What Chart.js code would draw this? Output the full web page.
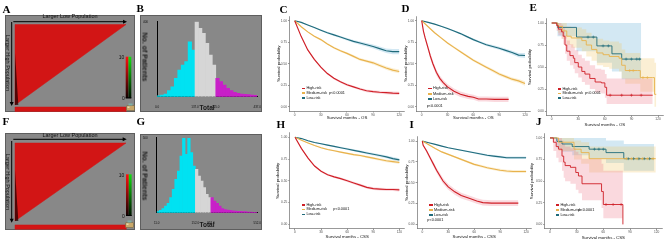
<!DOCTYPE html>
<html><head><meta charset="utf-8">
<script src="https://cdn.jsdelivr.net/npm/chart.js@4.4.0/dist/chart.umd.min.js"></script>
<style>
html,body{margin:0;padding:0;background:#fff;}
#root{position:relative;width:669px;height:242px;overflow:hidden;font-family:"Liberation Sans",Arial,sans-serif;}
#root canvas{position:absolute;display:block;}
.pl{position:absolute;font-family:"Liberation Serif","DejaVu Serif",serif;font-weight:bold;font-size:11px;line-height:1;color:#000;}
.tx{position:absolute;white-space:nowrap;line-height:1;color:#111;}
.sw{display:inline-block;width:3.4px;height:1.5px;vertical-align:middle;margin-right:1.3px;}
</style></head><body><div id="root"></div>
<script>
// ================= DATA =================
const riskGroups = ['High-risk','Medium-risk','Low-risk'];
const pValue = 'p<0.0001';
const kmXTicks = [0,30,60,90,120];
const kmYTicks = [0,0.25,0.5,0.75,1];
const osTitle = 'Survival months - OS';
const cssTitle = 'Survival months - CSS';
const survTitle = 'Survival probability';

const kmMonths = [0,7.5,15,22.5,30,37.5,45,52.5,60,67.5,75,82.5,90,97.5,105,112.5,120];

// C : OS (training)
const cHigh   = [1,0.815,0.66,0.55,0.46,0.385,0.33,0.29,0.255,0.23,0.205,0.185,0.175,0.168,0.163,0.158,0.155];
const cHighCI = [0,0.008,0.01,0.01,0.012,0.012,0.013,0.013,0.014,0.014,0.015,0.016,0.016,0.017,0.018,0.018,0.019];
const cMed    = [1,0.93,0.87,0.82,0.78,0.73,0.685,0.65,0.62,0.585,0.55,0.53,0.51,0.48,0.45,0.425,0.41];
const cMedCI  = [0,0.006,0.008,0.009,0.01,0.011,0.012,0.013,0.014,0.015,0.016,0.017,0.018,0.019,0.02,0.021,0.022];
const cLow    = [1,0.98,0.95,0.92,0.89,0.86,0.835,0.81,0.785,0.76,0.74,0.72,0.70,0.675,0.65,0.64,0.64];
const cLowCI  = [0,0.004,0.006,0.008,0.01,0.011,0.012,0.013,0.015,0.017,0.019,0.021,0.023,0.025,0.027,0.03,0.03];

// D : OS (validation)
const dHighMonths = [0,2,4,6,8,10,13,17,21,25,30,37.5,45,54,60,66,75,85,95,101];
const dHigh   = [1,0.88,0.80,0.73,0.66,0.59,0.50,0.40,0.33,0.28,0.23,0.18,0.145,0.12,0.11,0.09,0.09,0.085,0.085,0.085];
const dHighCI = [0,0.02,0.025,0.028,0.03,0.032,0.033,0.034,0.034,0.034,0.033,0.032,0.031,0.03,0.03,0.03,0.03,0.03,0.03,0.03];
const dMed    = [1,0.93,0.86,0.80,0.74,0.69,0.64,0.59,0.54,0.50,0.46,0.42,0.38,0.35,0.32,0.30,0.27];
const dMedCI  = [0,0.006,0.008,0.01,0.011,0.012,0.013,0.014,0.015,0.016,0.017,0.018,0.019,0.02,0.02,0.022,0.025];
const dLow    = [1,0.98,0.96,0.935,0.91,0.88,0.85,0.815,0.78,0.75,0.72,0.70,0.68,0.655,0.63,0.60,0.595];
const dLowCI  = [0,0.004,0.005,0.006,0.008,0.009,0.01,0.011,0.012,0.013,0.014,0.016,0.018,0.02,0.022,0.025,0.028];

// E : OS (small cohort, step curves)
const eHighT  = [0,5.6,7.5,11,13,15,17,20.6,24.4,26,30,34,37.5,43,49,56,60,62,114];
const eHighS  = [1,0.97,0.93,0.90,0.85,0.75,0.68,0.63,0.60,0.55,0.50,0.45,0.42,0.37,0.33,0.32,0.27,0.18,0.18];
const eHighLo = [1,0.91,0.86,0.82,0.76,0.65,0.57,0.52,0.48,0.43,0.38,0.33,0.30,0.25,0.21,0.20,0.15,0.08,0.08];
const eHighHi = [1,1,1,0.98,0.94,0.86,0.80,0.76,0.73,0.69,0.64,0.60,0.57,0.52,0.48,0.47,0.42,0.37,0.37];
const eHighCens = [66,79,90,101];
const eMedT   = [0,7,12,17,22,34,39,45,51,58,65,76,79,83,97,100,114,116,118];
const eMedS   = [1,0.96,0.91,0.85,0.83,0.80,0.75,0.70,0.66,0.64,0.62,0.60,0.52,0.46,0.46,0.38,0.38,0.19,0.19];
const eMedLo  = [1,0.89,0.82,0.75,0.72,0.68,0.62,0.57,0.52,0.50,0.48,0.45,0.37,0.31,0.31,0.22,0.22,0.05,0.05];
const eMedHi  = [1,1,1,0.96,0.95,0.93,0.89,0.85,0.82,0.80,0.79,0.77,0.70,0.66,0.66,0.60,0.60,0.55,0.55];
const eMedCens = [88,92,103,108];
const eLowT   = [0,6.5,28,51,68,79,101];
const eLowS   = [1,0.95,0.84,0.74,0.65,0.59,0.59];
const eLowLo  = [1,0.85,0.68,0.55,0.45,0.36,0.36];
const eLowHi  = [1,1,1,1,1,1,1];
const eLowCens = [41,47,58,64,84,90,96,99];

// H : CSS (training)
const hHigh   = [1,0.87,0.76,0.67,0.61,0.57,0.545,0.525,0.50,0.475,0.45,0.425,0.41,0.405,0.40,0.40,0.395];
const hHighCI = [0,0.008,0.01,0.011,0.012,0.012,0.013,0.013,0.014,0.014,0.015,0.015,0.016,0.016,0.017,0.018,0.018];
const hMed    = [1,0.965,0.935,0.905,0.88,0.86,0.845,0.83,0.815,0.80,0.79,0.775,0.76,0.745,0.73,0.72,0.71];
const hMedCI  = [0,0.004,0.005,0.006,0.007,0.008,0.009,0.01,0.011,0.012,0.012,0.013,0.014,0.015,0.016,0.017,0.018];
const hLow    = [1,0.985,0.96,0.94,0.925,0.91,0.895,0.88,0.865,0.85,0.835,0.82,0.805,0.79,0.775,0.755,0.74];
const hLowCI  = [0,0.003,0.005,0.006,0.007,0.008,0.009,0.01,0.011,0.012,0.013,0.014,0.015,0.016,0.017,0.018,0.02];

// I : CSS (validation)
const iHighMonths = [0,1,5,9,13,16.5,20.5,24,30,37.5,45,55,63,70,80,90,100,111];
const iHigh   = [1,0.95,0.88,0.80,0.72,0.65,0.58,0.52,0.45,0.39,0.345,0.31,0.28,0.26,0.255,0.255,0.255,0.255];
const iHighCI = [0,0.01,0.02,0.025,0.028,0.03,0.032,0.033,0.034,0.034,0.034,0.034,0.034,0.034,0.034,0.034,0.035,0.035];
const iMed    = [1,0.955,0.91,0.87,0.84,0.81,0.78,0.75,0.72,0.70,0.68,0.665,0.65,0.64,0.635,0.635,0.635];
const iMedCI  = [0,0.005,0.007,0.009,0.01,0.011,0.012,0.013,0.014,0.015,0.016,0.016,0.017,0.017,0.018,0.018,0.018];
const iLow    = [1,0.98,0.96,0.94,0.92,0.905,0.89,0.875,0.86,0.845,0.83,0.82,0.81,0.80,0.80,0.80,0.80];
const iLowCI  = [0,0.003,0.004,0.005,0.006,0.007,0.008,0.009,0.01,0.011,0.012,0.013,0.014,0.015,0.015,0.016,0.016];

// J : CSS (small cohort, step curves)
const jHighT  = [0,3.8,7,9.6,13.5,15.4,17,23,29,32,36,58,60,82];
const jHighS  = [1,0.95,0.90,0.87,0.79,0.72,0.68,0.66,0.60,0.56,0.47,0.38,0.23,0];
const jHighLo = [1,0.85,0.77,0.72,0.62,0.54,0.50,0.47,0.40,0.36,0.28,0.19,0.07,0];
const jHighHi = [1,1,1,1,0.97,0.93,0.90,0.88,0.84,0.81,0.76,0.70,0.62,0.62];
const jHighCens = [63,71,80];
const jMedT   = [0,9.6,27,35,44,119];
const jMedS   = [1,0.95,0.87,0.83,0.76,0.76];
const jMedLo  = [1,0.85,0.75,0.70,0.60,0.60];
const jMedHi  = [1,1,0.97,0.95,0.90,0.90];
const jMedCens = [86,92,98,104,110,116];
const jLowT   = [0,7.7,13.5,25,44,63,83,117];
const jLowS   = [1,0.96,0.93,0.90,0.87,0.83,0.76,0.76];
const jLowLo  = [1,0.88,0.84,0.80,0.76,0.71,0.62,0.62];
const jLowHi  = [1,1,1,1,1,0.97,0.93,0.93];
const jLowCens = [50,55,60,88,94,100,106,112];

// Histograms (B, G)
const histTitleX = 'Total';
const histTitleY = 'No. of Patients';
const histBCounts = [5,9,14,32,53,98,142,169,187,293,249,400,364,338,284,222,169,98,80,62,44,32,23,18,14,12,11,9,7];
const histBCuts = [11,17];
const histBTickPos = [0,11,17,29];
const histBTickLabels = ['0.0','137.0','225.0','437.0'];
const histBMax = 400;
const histGCounts = [7,16,27,44,62,100,155,222,278,378,495,389,495,400,311,289,244,211,167,122,100,100,78,62,44,27,20,18,16,13,11,9,9,7,7,4,4,2,2];
const histGCuts = [15,21];
const histGTickPos = [0,15,21,39];
const histGTickLabels = ['11.0','152.0','218.0','552.0'];
const histGMax = 500;

// X-tile plots (A, F)
const xtTitleX = 'Larger Low Population';
const xtTitleY = 'Larger High Population';
const xtTriX = [0,100,0];
const xtTriY = [0,0,100];
const xtWedgeX = [0,3,0];
const xtWedgeY = [35,100,100];
const xtBarAX = [0,100,100,0];
const xtBarAY = [102.5,102.5,108,108];
const xtBarFX = [0,100,100,0];
const xtBarFY = [105,105,110.5,110.5];
const xtScaleLabels = ['10','0'];

// ================= STYLE =================
const KM_COLORS = ['#cf1f27','#e8b24c','#1f6b7b'];
const BAND_COLORS = ['rgba(238,120,135,0.28)','rgba(242,196,100,0.28)','rgba(110,178,215,0.30)'];
const HIST_COLORS = ['#00e2f2','#d6d6d6','#c820c8'];
const XT_RED = '#d21515';
const PANEL_GRAY = '#888888';

const root = document.getElementById('root');
function addCanvas(l,t,w,h){
  const c=document.createElement('canvas');
  c.width=w; c.height=h;
  c.style.left=l+'px'; c.style.top=t+'px'; c.style.width=w+'px'; c.style.height=h+'px';
  root.appendChild(c); return c;
}
function addText(txt,x,y,size,extra){
  const d=document.createElement('div'); d.className='tx'; d.textContent=txt;
  d.style.left=x+'px'; d.style.top=y+'px'; d.style.fontSize=size+'px';
  if(extra) Object.assign(d.style,extra);
  root.appendChild(d); return d;
}
function addCentered(txt,cx,cy,size,extra,rot){
  const d=addText(txt,cx,cy,size,extra);
  d.style.transform='translate(-50%,-50%)'+(rot?' rotate('+rot+'deg)':'');
  return d;
}
function stepAt(t,T,S){let v=S[0];for(let i=0;i<T.length;i++){if(T[i]<=t)v=S[i];}return v;}
function pairs(T,V){return T.map((t,i)=>({x:t,y:V[i]}));}
function smooth(t,s,ci){return {t,s,lo:s.map((v,i)=>Math.max(0,v-ci[i])),hi:s.map((v,i)=>Math.min(1,v+ci[i]))};}

const grayBg = {id:'grayBg', beforeDraw(ch){const x=ch.ctx;x.save();x.fillStyle=PANEL_GRAY;x.fillRect(0,0,ch.width,ch.height);x.strokeStyle='#5e5e5e';x.lineWidth=1;x.strokeRect(0.5,0.5,ch.width-1,ch.height-1);x.restore();}};

// ================= KM PANELS =================
function makeKM(p){
  const g=p.geo, span=g.y0-g.y1;
  const aL=g.x0-6*g.ppm, aR=g.x0+126*g.ppm, aT=g.y1-0.05*span, aB=g.y0+0.05*span;
  const cl=Math.round(aL-g.yw), ct=Math.round(aT-3);
  const cw=Math.ceil(aR+4-cl), chh=Math.ceil(aB+g.xh-ct);
  const yw=aL-cl, padT=aT-ct, padR=cl+cw-aR, xh=ct+chh-aB;
  const c=addCanvas(cl,ct,cw,chh);
  const st=p.stepped?'before':false;
  const ds=[];
  p.curves.forEach((cv,k)=>{
    ds.push({data:pairs(cv.t,cv.lo),borderWidth:0,borderColor:'rgba(0,0,0,0)',pointRadius:0,fill:false,stepped:st,order:10});
    ds.push({data:pairs(cv.t,cv.hi),borderWidth:0,borderColor:'rgba(0,0,0,0)',pointRadius:0,fill:'-1',backgroundColor:BAND_COLORS[k],stepped:st,order:10});
  });
  p.curves.forEach((cv,k)=>{
    ds.push({data:pairs(cv.t,cv.s),borderColor:KM_COLORS[k],borderWidth:p.lw,pointRadius:0,fill:false,stepped:st,order:2});
  });
  p.curves.forEach((cv,k)=>{
    if(cv.cens) ds.push({data:cv.cens.map(t=>({x:t,y:stepAt(t,cv.t,cv.s)})),showLine:false,pointStyle:'cross',pointRadius:1.5,pointBorderWidth:0.6,pointBorderColor:KM_COLORS[k],borderColor:KM_COLORS[k],fill:false,order:1});
  });
  new Chart(c,{type:'line',data:{datasets:ds},options:{
    responsive:false,animation:false,devicePixelRatio:1,events:[],
    layout:{padding:{left:0,top:padT,right:padR,bottom:0}},
    plugins:{legend:{display:false},tooltip:{enabled:false}},
    scales:{
      x:{type:'linear',min:-6,max:126,
         afterBuildTicks:s=>{s.ticks=kmXTicks.map(v=>({value:v}));},
         afterFit:s=>{s.height=xh;},
         grid:{display:true,drawOnChartArea:false,drawTicks:true,tickLength:1.5,color:'#333',lineWidth:0.5},
         border:{display:true,color:'#333',width:0.5},
         ticks:{font:{size:3.2},color:'#4d4d4d',padding:0.3,maxRotation:0,autoSkip:false},
         title:{display:true,text:p.xTitle,font:{size:4.3},color:'#111',padding:0}},
      y:{type:'linear',min:-0.05,max:1.05,
         afterBuildTicks:s=>{s.ticks=kmYTicks.map(v=>({value:v}));},
         afterFit:s=>{s.width=yw;},
         grid:{display:true,drawOnChartArea:false,drawTicks:true,tickLength:1.5,color:'#333',lineWidth:0.5},
         border:{display:true,color:'#333',width:0.5},
         ticks:{font:{size:3.2},color:'#4d4d4d',padding:1,autoSkip:false,callback:v=>Number(v).toFixed(2)},
         title:{display:true,text:survTitle,font:{size:4.3},color:'#111',padding:0}}
    }}});
  // legend + p value
  p.legend.rows.forEach((y,i)=>{
    const d=addText('',p.legend.x,y-1.9,3.8);
    const s=document.createElement('span'); s.className='sw'; s.style.background=KM_COLORS[i];
    d.appendChild(s); d.appendChild(document.createTextNode(riskGroups[i]));
  });
  addText(pValue,p.pval.x,p.pval.y-1.9,3.8);
}

const kmPanels=[
  {geo:{x0:294.7,ppm:0.871,y1:20.7,y0:106.7,yw:13.1,xh:8.6},xTitle:osTitle,stepped:false,lw:1.15,
   curves:[smooth(kmMonths,cHigh,cHighCI),smooth(kmMonths,cMed,cMedCI),smooth(kmMonths,cLow,cLowCI)],
   legend:{x:301.7,rows:[89.3,94,98.7]},pval:{x:329,y:94}},
  {geo:{x0:421.7,ppm:0.861,y1:20.7,y0:106.7,yw:13.4,xh:8.9},xTitle:osTitle,stepped:false,lw:1.15,
   curves:[smooth(dHighMonths,dHigh,dHighCI),smooth(kmMonths,dMed,dMedCI),smooth(kmMonths,dLow,dLowCI)],
   legend:{x:428.3,rows:[89.3,95,100]},pval:{x:426.7,y:106.7}},
  {geo:{x0:551.7,ppm:0.886,y1:21.7,y0:111,yw:19,xh:11.4},xTitle:osTitle,stepped:true,lw:0.9,
   curves:[{t:eHighT,s:eHighS,lo:eHighLo,hi:eHighHi,cens:eHighCens},{t:eMedT,s:eMedS,lo:eMedLo,hi:eMedHi,cens:eMedCens},{t:eLowT,s:eLowS,lo:eLowLo,hi:eLowHi,cens:eLowCens}],
   legend:{x:557.7,rows:[90,94.3,99]},pval:{x:585,y:94.3}},
  {geo:{x0:295,ppm:0.87,y1:137,y0:224.3,yw:14.9,xh:9.9},xTitle:cssTitle,stepped:false,lw:1.15,
   curves:[smooth(kmMonths,hHigh,hHighCI),smooth(kmMonths,hMed,hMedCI),smooth(kmMonths,hLow,hLowCI)],
   legend:{x:301.7,rows:[206,210.3,215.3]},pval:{x:333.3,y:210.3}},
  {geo:{x0:422.3,ppm:0.865,y1:141,y0:224.3,yw:13,xh:10.1},xTitle:cssTitle,stepped:false,lw:1.15,
   curves:[smooth(iHighMonths,iHigh,iHighCI),smooth(kmMonths,iMed,iMedCI),smooth(kmMonths,iLow,iLowCI)],
   legend:{x:429.3,rows:[206,211,216]},pval:{x:427.3,y:221}},
  {geo:{x0:550,ppm:0.889,y1:136,y0:224.3,yw:15.6,xh:10.9},xTitle:cssTitle,stepped:true,lw:0.9,
   curves:[{t:jHighT,s:jHighS,lo:jHighLo,hi:jHighHi,cens:jHighCens},{t:jMedT,s:jMedS,lo:jMedLo,hi:jMedHi,cens:jMedCens},{t:jLowT,s:jLowS,lo:jLowLo,hi:jLowHi,cens:jLowCens}],
   legend:{x:555.7,rows:[206,211,216]},pval:{x:578.3,y:211}}
];

// ================= HISTOGRAMS =================
function makeHist(h){
  const c=addCanvas(h.left,h.top,h.w,h.h);
  const n=h.counts.length;
  new Chart(c,{type:'bar',data:{datasets:[{
      data:h.counts.map((v,i)=>({x:i+0.5,y:v})),
      backgroundColor:h.counts.map((v,i)=>i<h.cuts[0]?HIST_COLORS[0]:(i<h.cuts[1]?HIST_COLORS[1]:HIST_COLORS[2])),
      borderWidth:0,barPercentage:1,categoryPercentage:1}]},
    options:{responsive:false,animation:false,devicePixelRatio:1,events:[],
      layout:{padding:{left:0,top:h.padT,right:h.padR,bottom:0}},
      plugins:{legend:{display:false},tooltip:{enabled:false}},
      scales:{
        x:{type:'linear',min:0,max:n,offset:false,
           afterBuildTicks:s=>{s.ticks=h.tickPos.map(v=>({value:v}));},
           afterFit:s=>{s.height=h.xh;},
           grid:{display:false},border:{display:true,color:'#000',width:1},
           ticks:{font:{size:3},color:'#111',padding:1,maxRotation:0,autoSkip:false,callback:v=>h.tickLabels[h.tickPos.indexOf(v)]},
           title:{display:true,text:histTitleX,font:{size:6.5,weight:'bold'},color:'#1a1a1a',padding:{top:0,bottom:h.titlePad}}},
        y:{type:'linear',min:0,max:h.max,
           afterBuildTicks:s=>{s.ticks=[{value:h.max}];},
           afterFit:s=>{s.width=h.yw;},
           grid:{display:false},border:{display:true,color:'#000',width:1},
           ticks:{font:{size:3},color:'#111',padding:1}}
      }},
    plugins:[grayBg]});
  addCentered(histTitleY,145,h.yTitleY,7,{fontWeight:'bold',color:'#1a1a1a'},90);
}

// ================= X-TILE =================
function makeXtDeco(g){
  return {id:'xtDeco',
    beforeDraw(ch){const x=ch.ctx;x.save();x.fillStyle=PANEL_GRAY;x.fillRect(0,0,ch.width,ch.height);x.strokeStyle='#5e5e5e';x.lineWidth=1;x.strokeRect(0.5,0.5,ch.width-1,ch.height-1);x.restore();},
    afterDraw(ch){
      const x=ch.ctx; x.save();
      x.strokeStyle='#000'; x.fillStyle='#000'; x.lineWidth=1;
      x.beginPath(); x.moveTo(g.ah[0],g.ah[2]); x.lineTo(g.ah[1]-2,g.ah[2]); x.stroke();
      x.beginPath(); x.moveTo(g.ah[1],g.ah[2]); x.lineTo(g.ah[1]-4,g.ah[2]-2); x.lineTo(g.ah[1]-4,g.ah[2]+2); x.closePath(); x.fill();
      x.beginPath(); x.moveTo(g.av[0],g.av[1]); x.lineTo(g.av[0],g.av[2]-2); x.stroke();
      x.beginPath(); x.moveTo(g.av[0],g.av[2]); x.lineTo(g.av[0]-2,g.av[2]-4); x.lineTo(g.av[0]+2,g.av[2]-4); x.closePath(); x.fill();
      const [cx,cy,cw,chh]=g.cb;
      let gr=x.createLinearGradient(0,cy,0,cy+chh); gr.addColorStop(0,'#ff1010'); gr.addColorStop(1,'#100000');
      x.fillStyle=gr; x.fillRect(cx,cy,cw,chh);
      gr=x.createLinearGradient(0,cy,0,cy+chh); gr.addColorStop(0,'#10e010'); gr.addColorStop(1,'#001000');
      x.fillStyle=gr; x.fillRect(cx+cw,cy,cw,chh);
      x.fillStyle='#000'; x.fillRect(cx,cy+chh-1,cw*2,1);
      const [ix,iy]=g.icon;
      x.fillStyle='#c9a86a'; x.fillRect(ix,iy+3,8,5);
      x.strokeStyle='#6b5a3a'; x.lineWidth=0.5; x.strokeRect(ix+0.25,iy+3.25,7.5,4.5);
      x.fillStyle='#7fb0a8'; x.fillRect(ix+2,iy+1,4,2);
      x.fillStyle='#e8d8b0'; x.fillRect(ix+1,iy+4,2,1.5);
      x.restore();
    }};
}
function makeXtile(g,barX,barY){
  const c=addCanvas(g.left,g.top,g.w,g.h);
  const ux=(g.triR-g.triL)/100, uy=(g.triB-g.triT)/100;
  const poly=(xs,ys)=>xs.map((v,i)=>({x:v,y:ys[i]})).concat([{x:xs[0],y:ys[0]}]);
  new Chart(c,{type:'line',data:{datasets:[
      {data:poly(xtTriX,xtTriY),fill:'shape',backgroundColor:XT_RED,borderColor:XT_RED,borderWidth:0.5,pointRadius:0,order:3},
      {data:poly(xtWedgeX,xtWedgeY),fill:'shape',backgroundColor:'rgba(25,0,0,0.7)',borderColor:'rgba(0,0,0,0)',borderWidth:0,pointRadius:0,order:2},
      {data:poly(barX,barY),fill:'shape',backgroundColor:XT_RED,borderColor:XT_RED,borderWidth:0.5,pointRadius:0,order:3}
    ]},
    options:{responsive:false,animation:false,devicePixelRatio:1,events:[],layout:{padding:0},
      plugins:{legend:{display:false},tooltip:{enabled:false}},
      scales:{x:{type:'linear',display:false,min:-g.triL/ux,max:(g.w-g.triL)/ux},
              y:{type:'linear',display:false,reverse:true,min:-g.triT/uy,max:(g.h-g.triT)/uy}}},
    plugins:[makeXtDeco(g)]});
  addCentered(xtTitleX,70,g.top+g.tx,5.5,{color:'#111'});
  addCentered(xtTitleY,7.3,g.top+g.ty,5.5,{color:'#111'},90);
  addCentered(xtScaleLabels[0],121.5,g.top+g.l10,5,{color:'#111'});
  addCentered(xtScaleLabels[1],123.5,g.top+g.l0,5,{color:'#111'});
}

// ================= BUILD =================
Chart.defaults.font.family='"Liberation Sans", Arial, sans-serif';

makeXtile({left:5,top:15,w:130,h:97,triL:10,triR:121,triT:9.5,triB:90,ah:[8.3,122,6.7],av:[6.7,7,91],cb:[120.7,41.7,2.8,41.6],icon:[121.5,87.5],tx:2.3,ty:47.5,l10:42,l0:83},xtBarAX,xtBarAY);
makeXtile({left:5,top:133,w:130,h:97,triL:10,triR:121,triT:10,triB:88,ah:[8.3,121.7,6.3],av:[6.7,8,89.7],cb:[121,41.3,2.8,41.7],icon:[120.5,86.5],tx:2.8,ty:49,l10:42,l0:82.5},xtBarFX,xtBarFY);

makeHist({left:140,top:15,w:122,h:97,yw:17,padT:6.7,padR:1,xh:15.3,titlePad:0,counts:histBCounts,cuts:histBCuts,tickPos:histBTickPos,tickLabels:histBTickLabels,max:histBMax,yTitleY:57});
makeHist({left:140,top:134,w:122,h:96,yw:16.7,padT:3.7,padR:1.3,xh:17.3,titlePad:1,counts:histGCounts,cuts:histGCuts,tickPos:histGTickPos,tickLabels:histGTickLabels,max:histGMax,yTitleY:176});

kmPanels.forEach(makeKM);

[['A',2.5,4.1],['B',136.5,3.1],['C',279.5,4.1],['D',401.5,3.1],['E',529.5,2.1],
 ['F',2.5,115.6],['G',136.5,116.1],['H',276.5,119.1],['I',409.5,119.1],['J',536,116.1]].forEach(([t,x,y])=>{
  const d=document.createElement('div'); d.className='pl'; d.textContent=t; d.style.left=x+'px'; d.style.top=y+'px'; root.appendChild(d);
});
</script></body></html>
